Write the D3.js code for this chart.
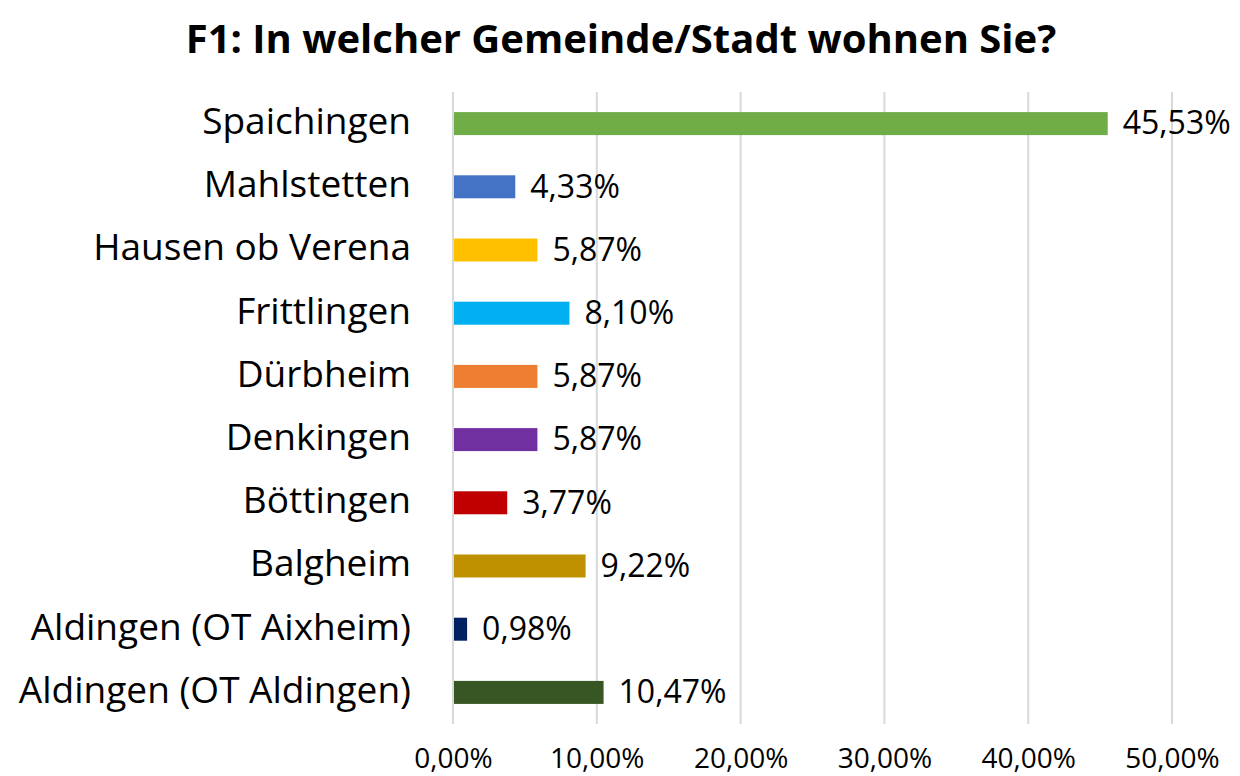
<!DOCTYPE html>
<html><head><meta charset="utf-8">
<script src="https://cdn.jsdelivr.net/npm/d3@7"></script>
<style>body{margin:0;background:#fff}svg{display:block}</style>
</head><body>
<svg id="c" width="1240" height="776"></svg>
<script>
const categories = ["Spaichingen","Mahlstetten","Hausen ob Verena","Frittlingen","Dürbheim","Denkingen","Böttingen","Balgheim","Aldingen (OT Aixheim)","Aldingen (OT Aldingen)"];
const values = [45.53,4.33,5.87,8.10,5.87,5.87,3.77,9.22,0.98,10.47];
const colors = ["#70AD47","#4472C4","#FFC000","#00B0F0","#ED7D31","#7030A0","#C00000","#BF9000","#002060","#375623"];
const ticks = [0,10,20,30,40,50];
const title = "F1: In welcher Gemeinde/Stadt wohnen Sie?";

const svg = d3.select("#c");
const font = "'Open Sans', sans-serif";
const fmt = v => v.toFixed(2).replace(".", ",") + "%";

const x = d3.scaleLinear().domain([0,50]).range([453,1172]);
const y = d3.scaleBand().domain(categories).range([92,724]).paddingInner(0.636).paddingOuter(0.318);

svg.append("text").attr("x",621).attr("y",53).attr("text-anchor","middle")
  .attr("font-family",font).attr("font-weight","bold").attr("font-size",40).attr("fill","#000").text(title);

// gridlines
svg.append("g").selectAll("line").data(ticks).join("line")
  .attr("x1",d=>x(d)).attr("x2",d=>x(d)).attr("y1",92).attr("y2",724)
  .attr("stroke","#d9d9d9").attr("stroke-width",2);

// bars
svg.append("g").selectAll("rect").data(categories).join("rect")
  .attr("x",x(0)+1).attr("y",d=>y(d)).attr("height",y.bandwidth())
  .attr("width",(d,i)=>x(values[i])-x(0)-1).attr("fill",(d,i)=>colors[i]);

// value labels
svg.append("g").selectAll("text").data(categories).join("text")
  .attr("x",(d,i)=>x(values[i])+15).attr("y",d=>y(d)+y.bandwidth()/2).attr("dy","0.34em")
  .attr("font-family",font).attr("font-size",32).attr("fill","#000")
  .text((d,i)=>fmt(values[i]));

// category axis
const ya = svg.append("g").attr("transform","translate(453,0)").call(d3.axisLeft(y).tickSize(0).tickPadding(42));
ya.select(".domain").remove();
ya.selectAll("text").attr("font-family",font).attr("font-size",37).attr("fill","#000").attr("dy","0.28em");

// x axis
const xa = svg.append("g").attr("transform","translate(0,768)")
  .call(d3.axisBottom(x).tickValues(ticks).tickSize(0).tickPadding(0).tickFormat(d=>d.toFixed(2).replace(".",",")+"%"));
xa.select(".domain").remove();
xa.selectAll("text").attr("font-family",font).attr("font-size",28).attr("fill","#000").attr("y",0).attr("dy","0");
</script>
</body></html>
